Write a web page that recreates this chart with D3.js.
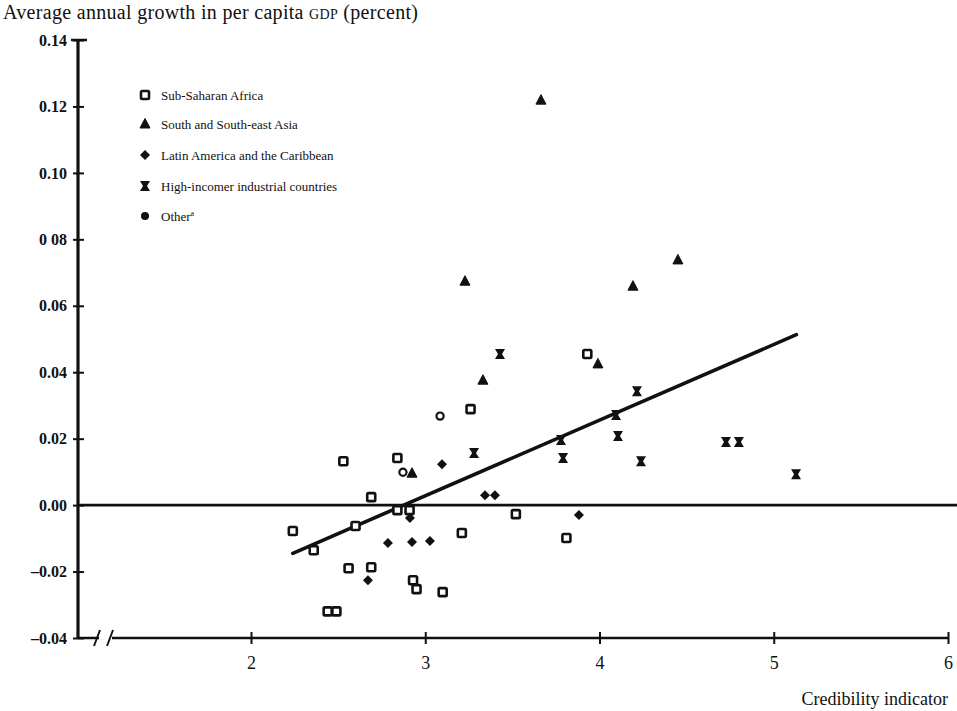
<!DOCTYPE html>
<html><head><meta charset="utf-8">
<script src="https://cdn.jsdelivr.net/npm/d3@7/dist/d3.min.js"></script>
<style>
body{margin:0;background:#fff;}
text{font-family:"Liberation Serif","DejaVu Serif",serif;fill:#111;}
</style></head>
<body><svg id="c" width="957" height="711"></svg>
<script>
// ---- data ----
const ssaX = [2.24,2.36,2.53,2.60,2.56,2.69,2.69,2.44,2.49,2.84,2.84,2.91,2.93,2.95,3.10,3.21,3.26,3.52,3.81,3.93];
const ssaY = [-0.0078,-0.0136,0.0132,-0.0063,-0.019,0.0024,-0.0187,-0.032,-0.032,0.0142,-0.0015,-0.0015,-0.0226,-0.0253,-0.0262,-0.0084,0.0289,-0.0027,-0.0099,0.0455];
const asiaX = [3.664,3.228,4.192,4.45,3.331,3.991,2.924];
const asiaY = [0.1219,0.0674,0.0659,0.0738,0.0376,0.0425,0.0096];
const latX = [3.096,3.343,3.40,2.912,2.786,2.924,3.027,2.671,3.882];
const latY = [0.0123,0.003,0.003,-0.0039,-0.0114,-0.0111,-0.0108,-0.0226,-0.003];
const hiX = [3.28,3.429,3.779,3.791,4.215,4.095,4.106,4.238,4.726,4.80,5.128];
const hiY = [0.0157,0.0455,0.0196,0.0142,0.0343,0.0271,0.0208,0.0132,0.019,0.019,0.0093];
const otherX = [3.085,2.872];
const otherY = [0.0268,0.0099];
const fitX = [2.24,5.13];
const fitY = [-0.0145,0.0513];
const xTicks = [2,3,4,5,6];
const yTicks = [0.14,0.12,0.10,0.08,0.06,0.04,0.02,0.00,-0.02,-0.04];
const yTickLabels = ["0.14","0.12","0.10","0 08","0.06","0.04","0.02","0.00","\u20130.02","\u20130.04"];
const legendLabels = ["Sub-Saharan Africa","South and South-east Asia","Latin America and the Caribbean","High-incomer industrial countries","Other"];

// ---- layout ----
const svg = d3.select("#c");
const axX = 78, axY0 = 40, axYb = 638;
const x = d3.scaleLinear().domain([2,6]).range([251,948]);
const y = d3.scaleLinear().domain([-0.04,0.14]).range([axYb,axY0]);

// title
const t = svg.append("text").attr("x",3).attr("y",19).style("font-size","20px")
  .attr("textLength",415).attr("lengthAdjust","spacing");
t.append("tspan").text("Average annual growth in per capita ");
t.append("tspan").style("font-size","14px").text("GDP");
t.append("tspan").text(" (percent)");

// y axis
svg.append("line").attr("x1",axX).attr("x2",axX).attr("y1",y(0.14)).attr("y2",axYb)
  .attr("stroke","#111").attr("stroke-width",3.2);
svg.append("line").attr("x1",axX-7).attr("x2",axX+9).attr("y1",y(0.14)).attr("y2",y(0.14))
  .attr("stroke","#111").attr("stroke-width",2.5);
const yAxis = d3.axisLeft(y).tickValues(yTicks).tickSize(0).tickPadding(11)
  .tickFormat((d,i)=>yTickLabels[i]);
const gy = svg.append("g").attr("transform",`translate(${axX},0)`).call(yAxis);
gy.select(".domain").remove();
gy.selectAll("text").style("font-size","16px").style("font-family","'Liberation Serif',serif").attr("fill","#111").attr("font-weight","bold");
gy.selectAll(".tick").append("line").attr("x1",-5).attr("x2",6).attr("stroke","#111").attr("stroke-width",2);

// x axis with break
const xg = svg.append("g");
xg.append("line").attr("x1",axX).attr("x2",99).attr("y1",axYb).attr("y2",axYb).attr("stroke","#111").attr("stroke-width",2.5);
xg.append("line").attr("x1",112).attr("x2",x(6)).attr("y1",axYb).attr("y2",axYb).attr("stroke","#111").attr("stroke-width",2.5);
[97,110].forEach(bx=>{
  xg.append("line").attr("x1",bx-3).attr("x2",bx+3).attr("y1",axYb+8).attr("y2",axYb-8).attr("stroke","#111").attr("stroke-width",2);
});
const xAxis = d3.axisBottom(x).tickValues(xTicks).tickSize(0).tickPadding(18).tickFormat(d3.format("d"));
const gx = svg.append("g").attr("transform",`translate(0,${axYb})`).call(xAxis);
gx.select(".domain").remove();
gx.selectAll("text").style("font-size","18px").style("font-family","'Liberation Serif',serif").attr("fill","#111");
gx.selectAll(".tick").append("line").attr("y1",-6).attr("y2",6).attr("stroke","#111").attr("stroke-width",2);

svg.append("text").attr("x",948).attr("y",705).attr("text-anchor","end").style("font-size","18px").text("Credibility indicator");

// zero line
svg.append("line").attr("x1",axX).attr("x2",957).attr("y1",y(0)).attr("y2",y(0)).attr("stroke","#111").attr("stroke-width",2.8);

// regression line
svg.append("line").attr("x1",x(fitX[0])).attr("y1",y(fitY[0])).attr("x2",x(fitX[1])).attr("y2",y(fitY[1]))
  .attr("stroke","#111").attr("stroke-width",3.6).attr("stroke-linecap","round");

// markers
const markers = {
  square: g => g.append("rect").attr("x",-4).attr("y",-4).attr("width",8).attr("height",8).attr("fill","#fff").attr("stroke","#111").attr("stroke-width",2.6).attr("rx",1.2),
  triangle: g => g.append("path").attr("d","M0,-5.5L5,4L-5,4Z").attr("fill","#111").attr("stroke","#111").attr("stroke-width",1).attr("stroke-linejoin","round"),
  diamond: g => g.append("path").attr("d","M0,-5L5,0L0,5L-5,0Z").attr("fill","#111"),
  hourglass: g => g.append("path").attr("d","M-5,-5L5,-5L2,0L5,5L-5,5L-2,0Z").attr("fill","#111"),
  circle: g => g.append("circle").attr("r",3.6).attr("fill","#fff").attr("stroke","#111").attr("stroke-width",2.2),
  dot: g => g.append("circle").attr("r",4).attr("fill","#111")
};
function plot(xs, ys, type){
  const g = svg.append("g");
  xs.forEach((v,i)=>{
    const m = g.append("g").attr("transform",`translate(${x(v)},${y(ys[i])})`);
    markers[type](m);
  });
}
plot(ssaX, ssaY, "square");
plot(asiaX, asiaY, "triangle");
plot(latX, latY, "diamond");
plot(hiX, hiY, "hourglass");
plot(otherX, otherY, "circle");

// legend
const legTypes = ["square","triangle","diamond","hourglass","dot"];
const legY = [95,124,155,186,216];
legendLabels.forEach((lab,i)=>{
  const m = svg.append("g").attr("transform",`translate(145,${legY[i]})`);
  markers[legTypes[i]](m);
  const tx = svg.append("text").attr("x",161).attr("y",legY[i]+4.5).style("font-size","13px").text(lab);
  if(i===4) tx.append("tspan").attr("dy",-5).style("font-size","8px").text("a");
});
</script></body></html>
